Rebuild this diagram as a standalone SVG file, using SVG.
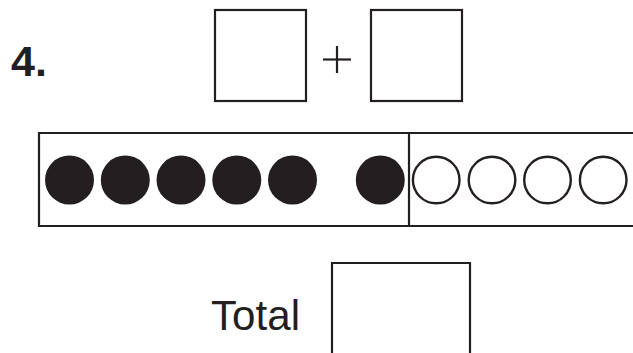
<svg xmlns="http://www.w3.org/2000/svg" width="633" height="353" viewBox="0 0 633 353">
<style>
.box{fill:none;stroke:#231f20;stroke-width:2.2}
.ln{stroke:#231f20;stroke-width:2.2;fill:none}
.full{fill:#231f20}
.empty{fill:none;stroke:#231f20;stroke-width:2.4}
.lbl{font-family:"Liberation Sans",Arial,sans-serif;fill:#231f20}
</style>
<rect width="633" height="353" fill="#fff"/>
<g id="number">
<text class="lbl" x="11" y="76" font-size="43" font-weight="bold">4.</text>
</g>
<g id="addend1"><rect class="box" x="215" y="10" width="91" height="91"/></g>
<g id="plus">
<line class="ln" x1="323" y1="59.5" x2="351" y2="59.5"/>
<line class="ln" x1="337" y1="46" x2="337" y2="73"/>
</g>
<g id="addend2"><rect class="box" x="371" y="10" width="91" height="91"/></g>
<g id="tenframe">
<path class="ln" d="M634 133 H39 V226 H634 M409 133 V226"/>
<circle class="full" cx="69.5" cy="180" r="24.5"/>
<circle class="full" cx="125.3" cy="180" r="24.5"/>
<circle class="full" cx="181" cy="180" r="24.5"/>
<circle class="full" cx="236.8" cy="180" r="24.5"/>
<circle class="full" cx="292.5" cy="180" r="24.5"/>
<circle class="full" cx="380.3" cy="180" r="24.5"/>
<circle class="empty" cx="436.2" cy="180" r="23.3"/>
<circle class="empty" cx="492" cy="180" r="23.3"/>
<circle class="empty" cx="547.5" cy="180" r="23.3"/>
<circle class="empty" cx="603.2" cy="180" r="23.3"/>
</g>
<g id="total">
<text class="lbl" x="211" y="330" font-size="42" textLength="89" lengthAdjust="spacingAndGlyphs">Total</text>
<path class="ln" d="M332 354 V263 H470 V354"/>
</g>
</svg>
